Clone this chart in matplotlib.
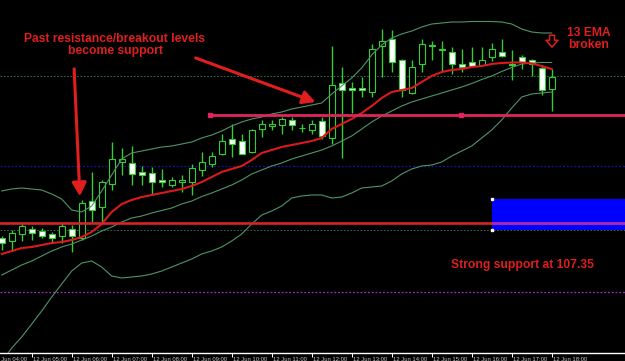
import numpy as np
import matplotlib
matplotlib.use('Agg')
import matplotlib.pyplot as plt
from matplotlib.patches import Rectangle, FancyArrowPatch

# 15 minute candles, 12 Jun 04:15 .. 18:00
opens = [107.320, 107.314, 107.328, 107.338, 107.334, 107.328, 107.325, 107.339, 107.320, 107.395,
         107.382, 107.428, 107.472, 107.471, 107.453, 107.451, 107.437, 107.427, 107.432, 107.433,
         107.457, 107.468, 107.489, 107.519, 107.515, 107.493, 107.539, 107.544, 107.546, 107.556,
         107.541, 107.536, 107.555, 107.520, 107.631, 107.621, 107.621, 107.612, 107.705, 107.719,
         107.677, 107.611, 107.668, 107.705, 107.697, 107.693, 107.668, 107.673, 107.667, 107.683,
         107.693, 107.668, 107.683, 107.677, 107.660, 107.619]
highs = [107.324, 107.336, 107.349, 107.344, 107.340, 107.333, 107.350, 107.346, 107.397, 107.452,
         107.437, 107.513, 107.500, 107.504, 107.464, 107.463, 107.459, 107.443, 107.446, 107.468,
         107.493, 107.493, 107.529, 107.549, 107.529, 107.539, 107.556, 107.557, 107.563, 107.563,
         107.548, 107.557, 107.563, 107.705, 107.663, 107.633, 107.642, 107.709, 107.739, 107.736,
         107.679, 107.677, 107.719, 107.715, 107.714, 107.703, 107.699, 107.702, 107.703, 107.711,
         107.719, 107.696, 107.686, 107.679, 107.666, 107.659]
lows = [107.296, 107.294, 107.315, 107.316, 107.320, 107.310, 107.310, 107.293, 107.316, 107.352,
        107.351, 107.416, 107.446, 107.426, 107.426, 107.406, 107.423, 107.423, 107.413, 107.406,
        107.444, 107.463, 107.486, 107.483, 107.488, 107.491, 107.523, 107.536, 107.529, 107.536,
        107.533, 107.529, 107.519, 107.509, 107.480, 107.570, 107.603, 107.603, 107.642, 107.653,
        107.602, 107.608, 107.653, 107.676, 107.654, 107.649, 107.653, 107.663, 107.664, 107.675,
        107.683, 107.636, 107.659, 107.644, 107.606, 107.575]
closes = [107.310, 107.330, 107.344, 107.330, 107.325, 107.320, 107.345, 107.325, 107.391, 107.376,
          107.432, 107.479, 107.478, 107.448, 107.447, 107.433, 107.432, 107.437, 107.437, 107.461,
          107.473, 107.484, 107.514, 107.509, 107.489, 107.536, 107.549, 107.549, 107.559, 107.546,
          107.540, 107.549, 107.524, 107.626, 107.617, 107.617, 107.616, 107.699, 107.715, 107.673,
          107.616, 107.663, 107.709, 107.706, 107.699, 107.668, 107.663, 107.664, 107.677, 107.699,
          107.684, 107.667, 107.673, 107.669, 107.616, 107.643]

# indicators
ema13 = [107.288, 107.294, 107.300, 107.302, 107.306, 107.310, 107.312, 107.316, 107.322, 107.332,
         107.348, 107.372, 107.388, 107.396, 107.402, 107.406, 107.410, 107.414, 107.418, 107.424,
         107.432, 107.442, 107.452, 107.458, 107.464, 107.476, 107.490, 107.496, 107.502, 107.506,
         107.510, 107.514, 107.520, 107.538, 107.548, 107.558, 107.570, 107.584, 107.600, 107.612,
         107.616, 107.620, 107.632, 107.644, 107.652, 107.656, 107.658, 107.662, 107.664, 107.668,
         107.670, 107.671, 107.671, 107.669, 107.664, 107.658]
bb_upper = [107.414, 107.418, 107.420, 107.418, 107.416, 107.408, 107.398, 107.376, 107.372, 107.384,
            107.414, 107.446, 107.478, 107.490, 107.494, 107.498, 107.502, 107.504, 107.508, 107.512,
            107.520, 107.526, 107.534, 107.544, 107.552, 107.558, 107.562, 107.568, 107.572, 107.578,
            107.582, 107.586, 107.590, 107.608, 107.624, 107.640, 107.660, 107.686, 107.706, 107.720,
            107.728, 107.734, 107.742, 107.748, 107.750, 107.752, 107.752, 107.753, 107.753, 107.753,
            107.752, 107.748, 107.738, 107.732, 107.730, 107.730]
bb_mid = [107.246, 107.256, 107.266, 107.274, 107.284, 107.294, 107.302, 107.308, 107.316, 107.324,
          107.334, 107.342, 107.352, 107.360, 107.364, 107.370, 107.375, 107.380, 107.388, 107.394,
          107.403, 107.410, 107.418, 107.426, 107.436, 107.448, 107.456, 107.464, 107.470, 107.478,
          107.484, 107.490, 107.496, 107.504, 107.514, 107.524, 107.538, 107.552, 107.564, 107.574,
          107.584, 107.592, 107.598, 107.604, 107.610, 107.616, 107.622, 107.629, 107.637, 107.644,
          107.653, 107.661, 107.668, 107.670, 107.671, 107.671]
bb_lower = [107.072, 107.100, 107.122, 107.148, 107.174, 107.202, 107.228, 107.254, 107.270, 107.274,
            107.262, 107.244, 107.240, 107.242, 107.244, 107.248, 107.254, 107.262, 107.270, 107.278,
            107.288, 107.294, 107.302, 107.314, 107.328, 107.348, 107.366, 107.374, 107.384, 107.400,
            107.404, 107.406, 107.406, 107.400, 107.402, 107.410, 107.420, 107.422, 107.424, 107.434,
            107.448, 107.458, 107.464, 107.466, 107.472, 107.484, 107.494, 107.504, 107.520, 107.536,
            107.556, 107.580, 107.602, 107.608, 107.610, 107.612]

hour_ticks = [-1, 3, 7, 11, 15, 19, 23, 27, 31, 35, 39, 43, 47, 51, 55]
hour_labels = ['12 Jun %02d:00' % h for h in range(4, 19)]

support_level = 107.35
breakout_level = 107.566
breakout_from = 20.83
breakout_mark = 45.97
dashed_levels = [107.644, 107.336]
navy_level = 107.464
purple_level = 107.212
zone_start, zone_low, zone_high = 49.03, 107.336, 107.3975

RED = '#e01e1e'
GREEN = '#36cc36'
BAND = '#4f9468'

fig = plt.figure(figsize=(6.25, 3.61), dpi=100, facecolor='black')
ax = fig.add_axes([0, 8 / 361, 1, 353 / 361])
ax.set_facecolor('black')
ax.set_xlim(-0.17, 62.33)
ax.set_ylim(107.09, 107.796)

# level lines
for lvl in dashed_levels:
    ax.axhline(lvl, color='#3f7a4c', lw=0.6, ls=(0, (2, 2)), zorder=1)
ax.axhline(navy_level, color='#1414a8', lw=0.9, ls=(0, (1.5, 1.5)), zorder=1)
ax.axhline(purple_level, color='#9a30c8', lw=0.9, ls=(0, (1.5, 1.5)), zorder=1)

# support zone
ax.add_patch(Rectangle((zone_start, zone_low), 20, zone_high - zone_low,
                       facecolor='#0000ff', edgecolor='none', zorder=2))

# candles
x = np.arange(len(opens))
o = np.array(opens)
c = np.array(closes)
ax.vlines(x, lows, highs, color=GREEN, lw=1.0, zorder=3)
body_lo = np.minimum(o, c)
body_h = np.maximum(np.abs(c - o), 0.0006)
fills = ['black' if cc >= oo else 'white' for oo, cc in zip(o, c)]
ax.bar(x, body_h, 0.62, bottom=body_lo, color=fills, edgecolor=GREEN,
       linewidth=0.8, zorder=4)

# bands and ema
for band in (bb_upper, bb_mid, bb_lower):
    ax.plot(x, band, color=BAND, lw=0.8, zorder=5)
ax.plot(x, ema13, color='#dc1a1a', lw=1.5, zorder=6)

# horizontal support / breakout lines
ax.axhline(support_level, color='#d42424', lw=1.9, zorder=7)
ax.hlines(support_level, zone_start, 63, color='#a02cc0', lw=1.9, zorder=8)
ax.hlines(breakout_level, breakout_from, 63, color='#e0245c', lw=2.0, zorder=7)
ax.plot([breakout_from, breakout_mark], [breakout_level] * 2, 's', ms=3.5,
        color='#e0245c', zorder=8)
ax.plot([zone_start] * 2, [zone_high, zone_low], 's', ms=1.5, color='white', zorder=9)

# annotations
font = dict(color=RED, fontsize=8.7, fontweight='bold', family='Liberation Sans')
ax.text(11.33, 107.706, 'Past resistance/breakout levels\nbecome support',
        ha='center', va='center', linespacing=1.0, zorder=10, **font)
ax.text(58.73, 107.718, '13 EMA\nbroken', ha='center', va='center',
        linespacing=1.1, zorder=10, **font)
ax.text(52.03, 107.261, 'Strong support at 107.35', ha='center', va='baseline',
        zorder=10, **font)

ax.add_patch(FancyArrowPatch((7.23, 107.664), (7.83, 107.398),
                             arrowstyle='-|>,head_length=8,head_width=4.3',
                             mutation_scale=1, color=RED, lw=2.2, zorder=10))
ax.add_patch(FancyArrowPatch((19.13, 107.682), (31.63, 107.590),
                             arrowstyle='-|>,head_length=7.5,head_width=4',
                             mutation_scale=1, color=RED, lw=2.2, zorder=10))
ax.add_patch(FancyArrowPatch((55.03, 107.731), (55.03, 107.696),
                             arrowstyle='simple,head_length=5,head_width=8.6,tail_width=3.6',
                             mutation_scale=1, facecolor='none', edgecolor=RED,
                             lw=1.1, zorder=10))

# time axis
for side in ('top', 'left', 'right'):
    ax.spines[side].set_visible(False)
ax.spines['bottom'].set_color('white')
ax.spines['bottom'].set_linewidth(1.0)
ax.set_yticks([])
ax.set_xticks(hour_ticks[1:])
ax.set_xticklabels([])
ax.tick_params(axis='x', colors='white', length=3, width=0.7, direction='out')
for t, lab in zip(hour_ticks, hour_labels):
    ax.annotate(lab, xy=(t, 0), xycoords=('data', 'axes fraction'),
                xytext=(1, -3.2), textcoords='offset points', ha='left', va='top',
                color='#c8c8c8', fontsize=4.2, family='Liberation Sans',
                annotation_clip=False)

fig.savefig('out.png', dpi=100, facecolor='black')
